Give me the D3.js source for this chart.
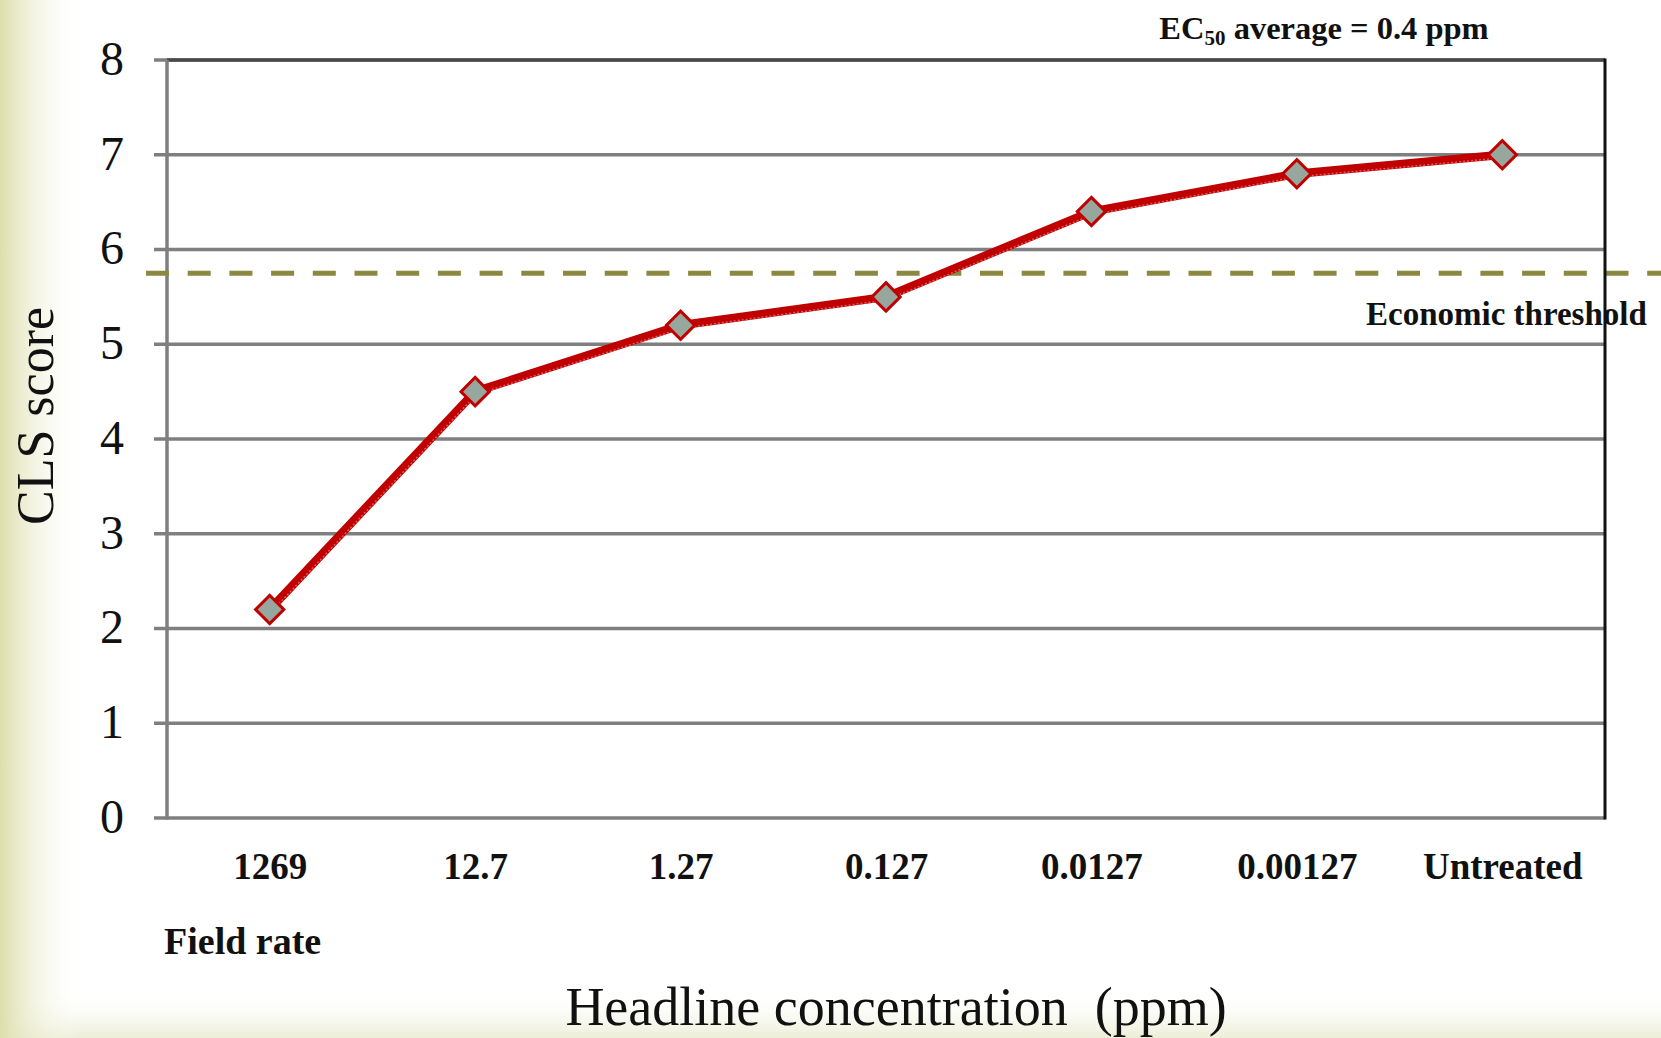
<!DOCTYPE html>
<html>
<head>
<meta charset="utf-8">
<script src="https://cdn.jsdelivr.net/npm/d3@7"></script>
<style>
  html, body { margin: 0; padding: 0; background: #ffffff; }
  svg { display: block; }
  text { font-family: "Liberation Serif", "DejaVu Serif", serif; fill: #111; }
</style>
</head>
<body>
<svg id="chart" width="1661" height="1038"></svg>
<script>
// Headline concentrations (ppm) and the mean CLS score at each
const categories = ["1269", "12.7", "1.27", "0.127", "0.0127", "0.00127", "Untreated"];
const clsScores = [2.2, 4.5, 5.2, 5.5, 6.4, 6.8, 7.0];
const yTicks = [0, 1, 2, 3, 4, 5, 6, 7, 8];
const economicThreshold = 5.75;

const svg = d3.select("#chart");
const W = 1661, H = 1038;
const plot = { left: 167, right: 1605, top: 60, bottom: 818 };

const x = d3.scalePoint().domain(categories).range([plot.left, plot.right]).padding(0.5);
const y = d3.scaleLinear().domain([0, 8]).range([plot.bottom, plot.top]);

// Slide-style background: olive fade on the left and along the bottom
const defs = svg.append("defs");
const gl = defs.append("linearGradient").attr("id", "leftFade").attr("x1", 0).attr("x2", 1).attr("y1", 0).attr("y2", 0);
gl.append("stop").attr("offset", "0%").attr("stop-color", "#dcdeab");
gl.append("stop").attr("offset", "100%").attr("stop-color", "#ffffff").attr("stop-opacity", 0);
const gb = defs.append("linearGradient").attr("id", "bottomFade").attr("x1", 0).attr("x2", 0).attr("y1", 0).attr("y2", 1);
gb.append("stop").attr("offset", "0%").attr("stop-color", "#ffffff").attr("stop-opacity", 0);
gb.append("stop").attr("offset", "100%").attr("stop-color", "#eceed6");

svg.append("rect").attr("width", W).attr("height", H).attr("fill", "#ffffff");
svg.append("rect").attr("x", 0).attr("y", 990).attr("width", W).attr("height", 48).attr("fill", "url(#bottomFade)");
svg.append("rect").attr("x", 0).attr("y", 0).attr("width", 82).attr("height", H).attr("fill", "url(#leftFade)");

// Horizontal gridlines
svg.append("g").selectAll("line").data(yTicks).join("line")
  .attr("x1", plot.left - 13).attr("x2", plot.right)
  .attr("y1", d => y(d)).attr("y2", d => y(d))
  .attr("stroke", "#7f7f7f").attr("stroke-width", 3.5);

// Top edge of the plot frame
svg.append("line")
  .attr("x1", plot.left).attr("x2", plot.right)
  .attr("y1", y(8)).attr("y2", y(8))
  .attr("stroke", "#4a4a4a").attr("stroke-width", 3.5);

// Y axis
const yAxis = svg.append("g")
  .attr("transform", `translate(${plot.left},0)`)
  .call(d3.axisLeft(y).tickValues(yTicks).tickSize(0).tickPadding(43).tickFormat(d3.format("d")));
yAxis.select(".domain").remove();
yAxis.selectAll("text")
  .style("font-family", "'Liberation Serif', serif")
  .style("font-size", "48px")
  .attr("dy", "0.30em")
  .attr("fill", "#111");
svg.append("line")
  .attr("x1", plot.left).attr("x2", plot.left)
  .attr("y1", plot.top).attr("y2", plot.bottom + 1.5)
  .attr("stroke", "#7f7f7f").attr("stroke-width", 3.5);

// X axis category labels
const xAxis = svg.append("g")
  .attr("transform", `translate(0,${plot.bottom})`)
  .call(d3.axisBottom(x).tickSize(0).tickPadding(61));
xAxis.select(".domain").remove();
xAxis.selectAll("text")
  .style("font-family", "'Liberation Serif', serif")
  .style("font-size", "37px")
  .style("font-weight", "bold")
  .attr("dy", "0")
  .attr("fill", "#111");

// Economic threshold (dashed)
svg.append("line")
  .attr("x1", 146).attr("x2", W)
  .attr("y1", y(economicThreshold)).attr("y2", y(economicThreshold))
  .attr("stroke", "#8b8840").attr("stroke-width", 5)
  .attr("stroke-dasharray", "23 18.7");

svg.append("text")
  .attr("x", 1366).attr("y", 325)
  .style("font-size", "33px").style("font-weight", "bold")
  .text("Economic threshold");

// Right edge of the plot frame
svg.append("line")
  .attr("x1", plot.right).attr("x2", plot.right)
  .attr("y1", plot.top - 1.5).attr("y2", plot.bottom + 1.5)
  .attr("stroke", "#111").attr("stroke-width", 3);

// Dose–response line
const pts = categories.map((c, i) => [x(c), y(clsScores[i])]);
const line = d3.line();
svg.append("path")
  .attr("d", line(pts))
  .attr("fill", "none").attr("stroke", "#c00000")
  .attr("stroke-width", 8.5).attr("stroke-linejoin", "round");
svg.append("path")
  .attr("d", line(pts))
  .attr("transform", "translate(1,3)")
  .attr("fill", "none").attr("stroke", "#e07070")
  .attr("stroke-width", 1.5).attr("stroke-dasharray", "2 2").attr("opacity", 0.8);

// Diamond markers
svg.append("g").selectAll("path").data(pts).join("path")
  .attr("d", d3.symbol().type(d3.symbolSquare).size(400))
  .attr("transform", d => `translate(${d[0]},${d[1]}) rotate(45)`)
  .attr("fill", "#97a79d").attr("stroke", "#c00000").attr("stroke-width", 3);

// Annotations and axis titles
const ec = svg.append("text")
  .attr("x", 1324).attr("y", 39)
  .attr("text-anchor", "middle")
  .style("font-size", "32.5px").style("font-weight", "bold");
ec.append("tspan").text("EC");
ec.append("tspan").attr("dy", 6).style("font-size", "21px").text("50");
ec.append("tspan").attr("dy", -6).text(" average = 0.4 ppm");

svg.append("text")
  .attr("x", 164).attr("y", 954)
  .style("font-size", "38px").style("font-weight", "bold")
  .text("Field rate");

svg.append("text")
  .attr("x", 896).attr("y", 1025)
  .attr("text-anchor", "middle")
  .style("font-size", "54px").style("white-space", "pre")
  .text("Headline concentration  (ppm)");

svg.append("text")
  .attr("transform", "translate(53,416) rotate(-90)")
  .attr("text-anchor", "middle")
  .style("font-size", "52px")
  .text("CLS score");
</script>
</body>
</html>
